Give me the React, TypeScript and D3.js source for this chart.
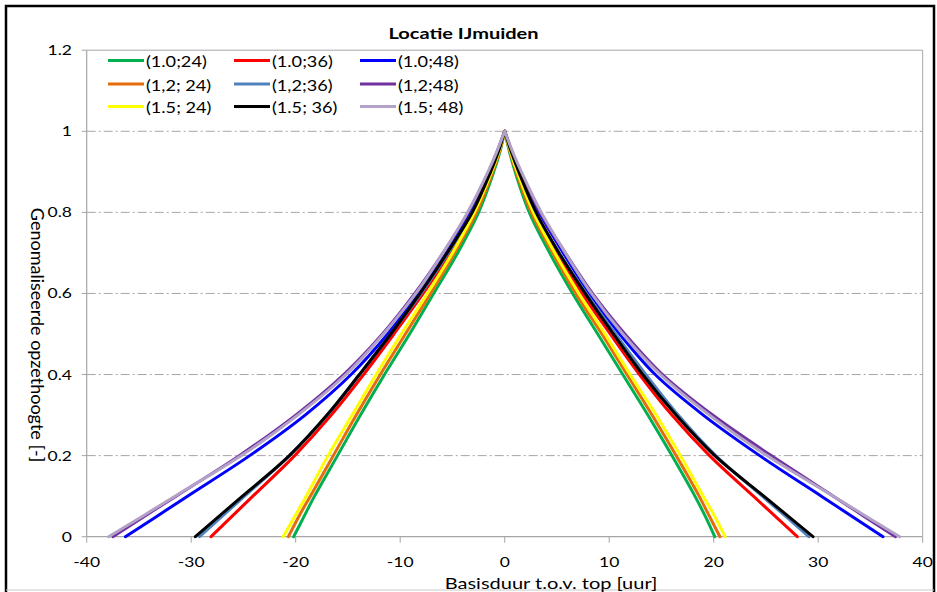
import React from 'react';
import * as d3 from 'd3';

// y-levels at which the curves were read (normalised height)
const yLevels = [0, 0.05, 0.1, 0.2, 0.3, 0.4, 0.5, 0.6, 0.7, 0.8, 0.9, 0.95, 1];

const seriesNames = ['(1.0;24)', '(1.0;36)', '(1.0;48)', '(1,2; 24)', '(1,2;36)', '(1,2;48)', '(1.5; 24)', '(1.5; 36)', '(1.5; 48)'];
const seriesColors = ['#00B050', '#FF0000', '#0000FF', '#E46C0A', '#4F81BD', '#7030A0', '#FFFF00', '#000000', '#B3A2C7'];

// left branch (hours before top) per series, at yLevels
const left10_24 = [-20.2, -19.2, -18.2, -16.0, -13.8, -11.5, -9.1, -6.8, -4.5, -2.5, -1.05, -0.45, 0];
const left10_36 = [-28.1, -26.1, -24.1, -20.1, -16.6, -13.5, -10.6, -7.8, -5.2, -2.9, -1.25, -0.55, 0];
const left10_48 = [-36.3, -33.3, -30.35, -24.4, -19.1, -14.7, -11.2, -8.3, -5.7, -3.4, -1.5, -0.7, 0];
const left12_24 = [-20.7, -19.7, -18.6, -16.4, -14.2, -11.9, -9.5, -7.1, -4.8, -2.7, -1.15, -0.5, 0];
const left12_36 = [-29.2, -27.05, -24.9, -20.6, -17.0, -13.9, -10.9, -8.0, -5.4, -3.0, -1.3, -0.6, 0];
const left12_48 = [-37.5, -34.5, -31.45, -25.4, -20.0, -15.4, -11.7, -8.6, -5.9, -3.5, -1.55, -0.72, 0];
const left15_24 = [-21.2, -20.1, -19.0, -16.9, -14.6, -12.3, -9.9, -7.4, -5.0, -2.9, -1.25, -0.55, 0];
const left15_36 = [-29.6, -27.35, -25.1, -20.6, -17.0, -13.9, -10.9, -8.1, -5.5, -3.1, -1.35, -0.6, 0];
const left15_48 = [-37.9, -34.7, -31.55, -25.2, -19.8, -15.2, -11.6, -8.5, -5.9, -3.55, -1.6, -0.75, 0];

// right branch (hours after top) per series, at yLevels
const right10_24 = [20.1, 19.2, 18.2, 16.0, 13.7, 11.3, 8.9, 6.5, 4.3, 2.35, 1.0, 0.45, 0];
const right10_36 = [28.0, 25.9, 23.8, 19.6, 16.0, 12.9, 10.1, 7.4, 5.0, 2.8, 1.2, 0.55, 0];
const right10_48 = [36.2, 33.25, 30.3, 24.4, 19.0, 14.4, 11.0, 8.1, 5.6, 3.3, 1.45, 0.68, 0];
const right12_24 = [20.6, 19.6, 18.6, 16.4, 14.1, 11.7, 9.3, 6.8, 4.6, 2.55, 1.1, 0.5, 0];
const right12_36 = [29.1, 26.9, 24.65, 20.2, 16.6, 13.5, 10.6, 7.8, 5.2, 2.95, 1.3, 0.6, 0];
const right12_48 = [37.4, 34.4, 31.45, 25.5, 19.9, 15.1, 11.5, 8.4, 5.8, 3.4, 1.5, 0.7, 0];
const right15_24 = [21.1, 20.1, 19.0, 16.8, 14.5, 12.0, 9.6, 7.1, 4.8, 2.75, 1.2, 0.55, 0];
const right15_36 = [29.5, 27.15, 24.8, 20.1, 16.4, 13.2, 10.4, 7.7, 5.2, 3.0, 1.35, 0.62, 0];
const right15_48 = [37.8, 34.6, 31.45, 25.1, 19.6, 14.9, 11.3, 8.3, 5.8, 3.5, 1.6, 0.75, 0];

const xTicks = [-40, -30, -20, -10, 0, 10, 20, 30, 40];
const yTicks = [0, 0.2, 0.4, 0.6, 0.8, 1, 1.2];
const yTickLabels = ['0', '0.2', '0.4', '0.6', '0.8', '1', '1.2'];
const gridValues = [0.2, 0.4, 0.6, 0.8, 1];

const title = 'Locatie IJmuiden';
const xTitle = 'Basisduur t.o.v. top [uur]';
const yTitle = 'Genomaliseerde opzethoogte [-]';

const W = 937;
const H = 592;
const FONT = 'Lato, "Open Sans", sans-serif';
const SX = 1.25;

const lefts = [left10_24, left10_36, left10_48, left12_24, left12_36, left12_48, left15_24, left15_36, left15_48];
const rights = [right10_24, right10_36, right10_48, right12_24, right12_36, right12_48, right15_24, right15_36, right15_48];

type TProps = { x: number; y: number; size: number; anchor?: string; weight?: string | number; sx?: number; children: React.ReactNode };
const T = ({ x, y, size, anchor = 'start', weight = 'normal', sx = SX, children }: TProps) => (
  <text
    transform={`translate(${x},${y}) scale(${sx},1)`}
    textAnchor={anchor as any}
    fontSize={size}
    fontWeight={weight}
    fontFamily={FONT}
    fill="#000"
  >
    {children}
  </text>
);

export default function App() {
  const x = d3.scaleLinear().domain([-40, 40]).range([86.7, 922.7]);
  const y = d3.scaleLinear().domain([0, 1.2]).range([536.7, 50.2]);
  const line = d3
    .line<[number, number]>()
    .x((d) => x(d[0]))
    .y((d) => y(d[1]))
    .curve(d3.curveCatmullRom.alpha(0.5));

  const [x0, x1] = x.range();
  const [yb, yt] = y.range();

  const legendCols = [108, 234, 360];
  const legendRows = [60.5, 84, 106.5];

  return (
    <svg width={W} height={H} style={{ position: 'absolute', left: 0, top: 0, background: '#fff' }}>
      <rect x={0} y={0} width={W} height={H} fill="#fff" />
      {/* outer frame */}
      <rect x={6} y={6} width={928} height={640} fill="none" stroke="#000" strokeWidth={2.5} />
      <line x1={6} x2={934} y1={590} y2={590} stroke="#c8c8c8" strokeWidth={1} />

      {/* gridlines */}
      {gridValues.map((g) => (
        <line key={g} x1={x0} x2={x1} y1={y(g)} y2={y(g)} stroke="#a6a6a6" strokeWidth={1} strokeDasharray="9,3,2,3" />
      ))}

      {/* plot border */}
      <line x1={x0} x2={x1} y1={yt} y2={yt} stroke="#a6a6a6" strokeWidth={1} />
      <line x1={x1} x2={x1} y1={yt} y2={yb} stroke="#a6a6a6" strokeWidth={1} />
      <line x1={x0} x2={x0} y1={yt} y2={yb} stroke="#a6a6a6" strokeWidth={1.2} />
      <line x1={x0} x2={x1} y1={yb} y2={yb} stroke="#a6a6a6" strokeWidth={1.2} />

      {/* ticks */}
      {yTicks.map((t) => (
        <line key={'yt' + t} x1={x0 - 5} x2={x0} y1={y(t)} y2={y(t)} stroke="#a6a6a6" strokeWidth={1} />
      ))}
      {xTicks.map((t) => (
        <line key={'xt' + t} x1={x(t)} x2={x(t)} y1={yb} y2={yb + 6} stroke="#a6a6a6" strokeWidth={1} />
      ))}

      {/* tick labels */}
      {yTicks.map((t, i) => (
        <T key={'yl' + t} x={72} y={y(t) + 5} size={14} anchor="end">
          {yTickLabels[i]}
        </T>
      ))}
      {xTicks.map((t) => (
        <T key={'xl' + t} x={x(t)} y={567} size={14} anchor="middle">
          {String(t)}
        </T>
      ))}

      {/* series */}
      {lefts.map((L, i) => {
        const lp: [number, number][] = yLevels.map((lv, k) => [L[k], lv]);
        const rp: [number, number][] = yLevels.map((lv, k) => [rights[i][k], lv]);
        return (
          <path
            key={'s' + i}
            d={(line(lp) || '') + (line(rp) || '')}
            fill="none"
            stroke={seriesColors[i]}
            strokeWidth={3}
            strokeLinecap="round"
            strokeLinejoin="round"
          />
        );
      })}

      {/* legend */}
      {seriesNames.map((n, i) => {
        const cx = legendCols[i % 3];
        const cy = legendRows[Math.floor(i / 3)];
        return (
          <g key={'lg' + i}>
            <line x1={cx} x2={cx + 36} y1={cy} y2={cy} stroke={seriesColors[i]} strokeWidth={3} />
            <T x={cx + 38} y={cy + 6.5} size={14.5}>
              {n}
            </T>
          </g>
        );
      })}

      {/* titles */}
      <T x={463.5} y={39} size={16} anchor="middle" weight="bold">
        {title}
      </T>
      <T x={551} y={589} size={16} anchor="middle">
        {xTitle}
      </T>
      <text
        transform={`translate(31,335) rotate(90)`}
        textAnchor="middle"
        fontSize={18}
        fontFamily={FONT}
        fill="#000"
      >
        {yTitle}
      </text>
    </svg>
  );
}
